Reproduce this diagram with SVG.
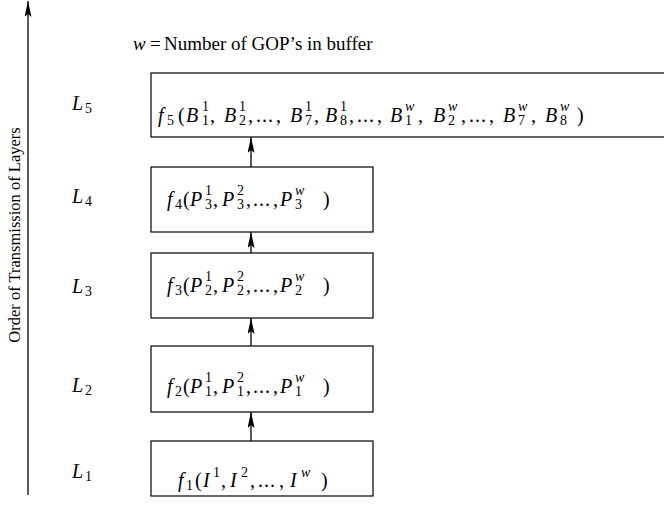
<svg xmlns="http://www.w3.org/2000/svg" width="664" height="508" viewBox="0 0 664 508">
<defs>
<marker id="ah" viewBox="0 0 16 7" refX="16" refY="3.5" markerWidth="16" markerHeight="7" markerUnits="userSpaceOnUse" orient="auto">
<path d="M0 0 L16 3.5 L0 7 L3 3.5 Z" fill="#000"/>
</marker>
</defs>
<style>
text{font-family:"Liberation Serif","Times New Roman",serif;font-size:20px;fill:#000}
.i{font-style:italic}
.s{font-size:14px}
.d{letter-spacing:1px}
.box{fill:#fff;stroke:#000;stroke-width:1.2}
.ln{stroke:#000;stroke-width:1.3;fill:none}
</style>
<g id="axis">
<line class="ln" x1="28" y1="495" x2="28" y2="1" marker-end="url(#ah)"/>
<text transform="translate(20 235) rotate(-90)" text-anchor="middle" style="font-size:16.5px">Order of Transmission of Layers</text>
</g>
<text style="font-size:19px" y="50"><tspan class="i" x="133">w</tspan><tspan x="150">=</tspan><tspan x="164">Number of GOP’s in buffer</tspan></text>
<g id="labels">
<text><tspan class="i" x="72" y="110">L</tspan><tspan class="s" x="85" y="113">5</tspan></text>
<text><tspan class="i" x="72" y="203">L</tspan><tspan class="s" x="85" y="206">4</tspan></text>
<text><tspan class="i" x="72" y="293">L</tspan><tspan class="s" x="85" y="296">3</tspan></text>
<text><tspan class="i" x="72" y="392">L</tspan><tspan class="s" x="85" y="395">2</tspan></text>
<text><tspan class="i" x="72" y="478">L</tspan><tspan class="s" x="85" y="481">1</tspan></text>
</g>
<g id="connectors">
<line class="ln" x1="251" y1="167" x2="251" y2="137" marker-end="url(#ah)"/>
<line class="ln" x1="251" y1="253" x2="251" y2="232" marker-end="url(#ah)"/>
<line class="ln" x1="251" y1="346" x2="251" y2="318" marker-end="url(#ah)"/>
<line class="ln" x1="251" y1="441" x2="251" y2="412" marker-end="url(#ah)"/>
</g>
<g id="node5">
<rect class="box" x="151" y="73" width="520" height="64"/>
<text>
<tspan class="i" x="158" y="122">f</tspan><tspan class="s" x="167" y="125">5</tspan><tspan x="178" y="122">(</tspan>
<tspan class="i" x="186" y="122">B</tspan><tspan class="s" x="202" y="111">1</tspan><tspan class="s" x="202" y="125">1</tspan><tspan x="210" y="122">,</tspan>
<tspan class="i" x="224" y="122">B</tspan><tspan class="s" x="239" y="111">1</tspan><tspan class="s" x="239" y="125">2</tspan><tspan x="248" y="122">,</tspan>
<tspan class="d" x="256" y="122">...</tspan><tspan x="276" y="122">,</tspan>
<tspan class="i" x="290" y="122">B</tspan><tspan class="s" x="305" y="111">1</tspan><tspan class="s" x="305" y="125">7</tspan><tspan x="314" y="122">,</tspan>
<tspan class="i" x="325" y="122">B</tspan><tspan class="s" x="340" y="111">1</tspan><tspan class="s" x="340" y="125">8</tspan><tspan x="349" y="122">,</tspan>
<tspan class="d" x="357" y="122">...</tspan><tspan x="377" y="122">,</tspan>
<tspan class="i" x="390" y="122">B</tspan><tspan class="s i" x="405" y="111">w</tspan><tspan class="s" x="405" y="125">1</tspan><tspan x="418" y="122">,</tspan>
<tspan class="i" x="433" y="122">B</tspan><tspan class="s i" x="448" y="111">w</tspan><tspan class="s" x="448" y="125">2</tspan><tspan x="461" y="122">,</tspan>
<tspan class="d" x="469" y="122">...</tspan><tspan x="489" y="122">,</tspan>
<tspan class="i" x="503" y="122">B</tspan><tspan class="s i" x="518" y="111">w</tspan><tspan class="s" x="518" y="125">7</tspan><tspan x="531" y="122">,</tspan>
<tspan class="i" x="545" y="122">B</tspan><tspan class="s i" x="560" y="111">w</tspan><tspan class="s" x="560" y="125">8</tspan><tspan x="577" y="122">)</tspan>
</text>
</g>
<g id="node4">
<rect class="box" x="151" y="167" width="222" height="65"/>
<text>
<tspan class="i" x="167" y="206">f</tspan><tspan class="s" x="175" y="209">4</tspan><tspan x="183" y="206">(</tspan>
<tspan class="i" x="190" y="206">P</tspan><tspan class="s" x="205" y="195">1</tspan><tspan class="s" x="205" y="209">3</tspan><tspan x="213" y="206">,</tspan>
<tspan class="i" x="222" y="206">P</tspan><tspan class="s" x="237" y="195">2</tspan><tspan class="s" x="237" y="209">3</tspan><tspan x="246" y="206">,</tspan>
<tspan class="d" x="253" y="206">...</tspan><tspan x="273" y="206">,</tspan>
<tspan class="i" x="280" y="206">P</tspan><tspan class="s i" x="295" y="195">w</tspan><tspan class="s" x="295" y="209">3</tspan><tspan x="323" y="206">)</tspan>
</text>
</g>
<g id="node3">
<rect class="box" x="151" y="253" width="222" height="65"/>
<text>
<tspan class="i" x="167" y="292">f</tspan><tspan class="s" x="175" y="295">3</tspan><tspan x="183" y="292">(</tspan>
<tspan class="i" x="190" y="292">P</tspan><tspan class="s" x="205" y="281">1</tspan><tspan class="s" x="205" y="295">2</tspan><tspan x="213" y="292">,</tspan>
<tspan class="i" x="222" y="292">P</tspan><tspan class="s" x="237" y="281">2</tspan><tspan class="s" x="237" y="295">2</tspan><tspan x="246" y="292">,</tspan>
<tspan class="d" x="253" y="292">...</tspan><tspan x="273" y="292">,</tspan>
<tspan class="i" x="280" y="292">P</tspan><tspan class="s i" x="295" y="281">w</tspan><tspan class="s" x="295" y="295">2</tspan><tspan x="323" y="292">)</tspan>
</text>
</g>
<g id="node2">
<rect class="box" x="151" y="346" width="222" height="66"/>
<text>
<tspan class="i" x="167" y="393">f</tspan><tspan class="s" x="175" y="396">2</tspan><tspan x="183" y="393">(</tspan>
<tspan class="i" x="190" y="393">P</tspan><tspan class="s" x="205" y="382">1</tspan><tspan class="s" x="205" y="396">1</tspan><tspan x="213" y="393">,</tspan>
<tspan class="i" x="222" y="393">P</tspan><tspan class="s" x="237" y="382">2</tspan><tspan class="s" x="237" y="396">1</tspan><tspan x="246" y="393">,</tspan>
<tspan class="d" x="253" y="393">...</tspan><tspan x="273" y="393">,</tspan>
<tspan class="i" x="280" y="393">P</tspan><tspan class="s i" x="295" y="382">w</tspan><tspan class="s" x="295" y="396">1</tspan><tspan x="323" y="393">)</tspan>
</text>
</g>
<g id="node1">
<rect class="box" x="151" y="441" width="222" height="55"/>
<text>
<tspan class="i" x="178" y="487">f</tspan><tspan class="s" x="186" y="490">1</tspan><tspan x="195" y="487">(</tspan>
<tspan class="i" x="203" y="487">I</tspan><tspan class="s" x="213" y="477">1</tspan><tspan x="221" y="487">,</tspan>
<tspan class="i" x="230" y="487">I</tspan><tspan class="s" x="241" y="477">2</tspan><tspan x="250" y="487">,</tspan>
<tspan class="d" x="258" y="487">...</tspan><tspan x="279" y="487">,</tspan>
<tspan class="i" x="290" y="487">I</tspan><tspan class="s i" x="301" y="477">w</tspan><tspan x="321" y="487">)</tspan>
</text>
</g>
</svg>
